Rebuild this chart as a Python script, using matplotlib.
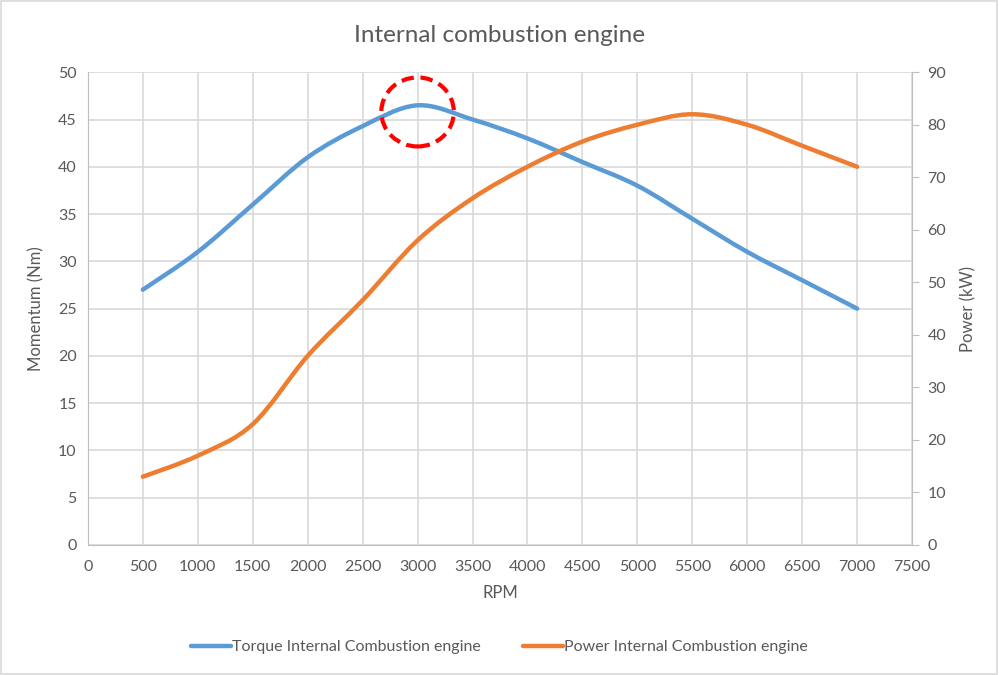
import matplotlib.pyplot as plt
from matplotlib.path import Path
from matplotlib.patches import PathPatch, Ellipse, Rectangle
from matplotlib.lines import Line2D

rpm = [500, 1000, 1500, 2000, 2500, 3000, 3500, 4000, 4500, 5000, 5500, 6000, 6500, 7000]
torque = [27, 31, 36, 41, 44.3, 46.5, 45, 43, 40.5, 38, 34.5, 31, 28, 25]  # Nm
power = [13, 17, 23, 36, 46.6, 58, 66, 72, 76.8, 80, 82, 80, 76, 72]  # kW

blue = '#5B9BD5'
orange = '#ED7D31'
grey_txt = '#595959'
grid_c = '#D9D9D9'

plt.rcParams['font.family'] = ['Lato', 'DejaVu Sans']


def smooth_path(xs, ys):
    # сглаженная линия как в Excel: кривые Безье между точками
    verts = [(xs[0], ys[0])]
    codes = [Path.MOVETO]
    n = len(xs)
    for i in range(n - 1):
        x0, y0 = (xs[i - 1], ys[i - 1]) if i > 0 else (xs[i], ys[i])
        x1, y1 = xs[i], ys[i]
        x2, y2 = xs[i + 1], ys[i + 1]
        x3, y3 = (xs[i + 2], ys[i + 2]) if i + 2 < n else (x2, y2)
        c1 = (x1 + (x2 - x0) / 6, y1 + (y2 - y0) / 6)
        c2 = (x2 - (x3 - x1) / 6, y2 - (y3 - y1) / 6)
        verts += [c1, c2, (x2, y2)]
        codes += [Path.CURVE4] * 3
    return Path(verts, codes)


fig = plt.figure(figsize=(9.99, 6.75), dpi=100)
fig.patches.append(Rectangle((0.001, 0.001), 0.997, 0.997, transform=fig.transFigure,
                             fill=False, edgecolor='#D9D9D9', linewidth=1.2))
ax = fig.add_axes([0.088, 0.1926, 0.825, 0.7004])
ax2 = ax.twinx()

ax.set_xlim(0, 7500)
ax.set_ylim(0, 50)
ax2.set_ylim(0, 90)
ax.set_xticks(range(0, 7501, 500))
ax.set_yticks(range(0, 51, 5))
ax2.set_yticks(range(0, 91, 10))

ax.grid(True, color=grid_c, linewidth=1.2)
ax.set_axisbelow(True)

ax.add_patch(PathPatch(smooth_path(rpm, torque), fill=False, edgecolor=blue,
                       linewidth=3.2, capstyle='round', zorder=3))
ax2.add_patch(PathPatch(smooth_path(rpm, power), fill=False, edgecolor=orange,
                        linewidth=3.2, capstyle='round', zorder=3))

# красный пунктирный круг у пика момента
ax.add_patch(Ellipse((3000, 45.8), 660, 7.3, fill=False, edgecolor='#FF0000',
                     linewidth=3, linestyle=(0, (3, 1.6)), zorder=4))

for a in (ax, ax2):
    a.spines['top'].set_visible(False)
    a.spines['left'].set_color('#BFBFBF')
    a.spines['bottom'].set_color('#BFBFBF')
    a.spines['right'].set_color('#BFBFBF')
ax.spines['right'].set_visible(False)
ax2.spines['left'].set_visible(False)
ax2.spines['bottom'].set_visible(False)

ax.tick_params(axis='both', length=0, labelsize=11.5, labelcolor=grey_txt)
ax.tick_params(axis='x', pad=11)
ax.tick_params(axis='y', pad=8)
ax2.tick_params(axis='y', length=5, color='#BFBFBF', labelsize=11.5, labelcolor=grey_txt, pad=6)

ax.set_title('Internal combustion engine', fontsize=17.5, color=grey_txt, pad=22)
ax.set_xlabel('RPM', fontsize=12, color=grey_txt, labelpad=8)
ax.set_ylabel('Momentum (Nm)', fontsize=12, color=grey_txt, labelpad=10)
ax2.set_ylabel('Power (kW)', fontsize=12, color=grey_txt, labelpad=10)

handles = [Line2D([], [], color=blue, linewidth=3.2, solid_capstyle='round'),
           Line2D([], [], color=orange, linewidth=3.2, solid_capstyle='round')]
fig.legend(handles, ['Torque Internal Combustion engine', 'Power Internal Combustion engine'],
           loc='center', bbox_to_anchor=(0.5, 0.041), ncol=2, frameon=False,
           fontsize=11.5, labelcolor=grey_txt, handlelength=2.5, handletextpad=0.1,
           columnspacing=2.6)

fig.savefig('out.png', dpi=100)
